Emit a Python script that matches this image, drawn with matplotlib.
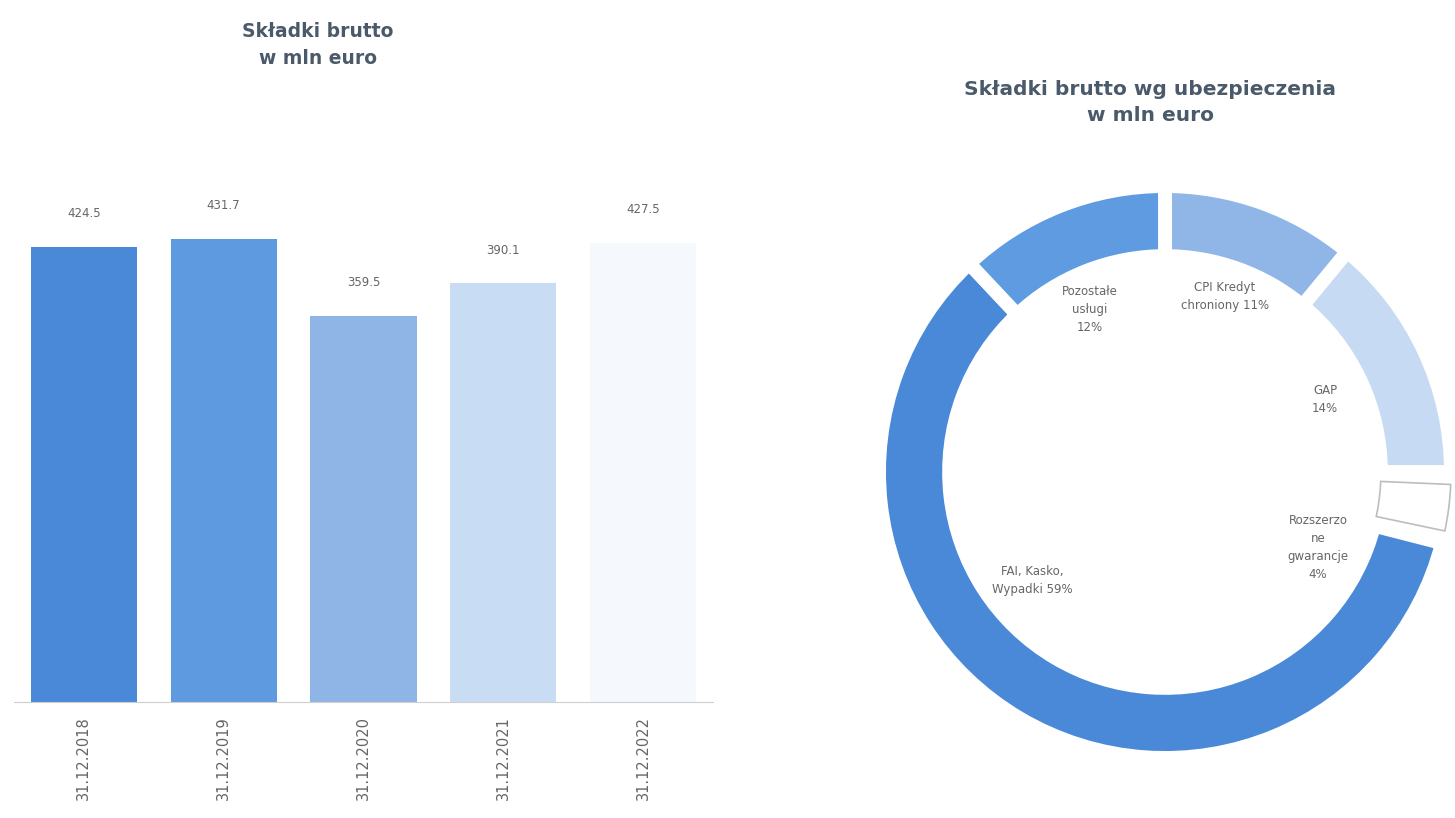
import matplotlib.pyplot as plt

# dane: składki brutto (mln euro)
years = ['31.12.2018', '31.12.2019', '31.12.2020', '31.12.2021', '31.12.2022']
premiums = [424.5, 431.7, 359.5, 390.1, 427.5]
bar_colors = ['#4a89d7', '#5d9ae0', '#8fb5e6', '#c8dcf3', '#f5f9fd']

# dane: struktura wg ubezpieczenia (%)
segments = ['CPI Kredyt\nchroniony 11%', 'GAP\n14%', 'Rozszerzo\nne\ngwarancje\n4%',
            'FAI, Kasko,\nWypadki 59%', 'Pozostałe\nusługi\n12%']
shares = [11, 14, 4, 59, 12]
donut_colors = ['#90b6e7', '#c6dbf3', '#ffffff', '#4a89d7', '#5e9be0']
label_pos = [(0.214, 0.625), (0.571, 0.257), (0.546, -0.271), (-0.475, -0.386), (-0.268, 0.579)]

title_color = '#4b5a6b'
text_color = '#666666'

fig = plt.figure(figsize=(14.55, 8.18), dpi=100)

# wykres słupkowy
ax1 = fig.add_axes([0.0096, 0.1418, 0.4804, 0.6296])
x = range(len(years))
bars = ax1.bar(x, premiums, width=0.76, color=bar_colors)
for b, v in zip(bars, premiums):
    ax1.annotate(f'{v:.1f}', (b.get_x() + b.get_width() / 2, v), xytext=(0, 24),
                 textcoords='offset points', ha='center', va='center',
                 fontsize=8.5, color=text_color)
ax1.set_xlim(-0.5, 4.5)
ax1.set_ylim(0, 480)
ax1.set_xticks(list(x))
ax1.set_xticklabels(years, rotation=90, fontsize=10.5, color=text_color)
ax1.tick_params(axis='x', length=0, pad=10)
ax1.set_yticks([])
for s in ['top', 'right', 'left']:
    ax1.spines[s].set_visible(False)
ax1.spines['bottom'].set_color('#cfcfcf')
fig.text(0.2186, 0.962, 'Składki brutto', ha='center', va='center',
         fontsize=13.5, fontweight='bold', color=title_color)
fig.text(0.2186, 0.928, 'w mln euro', ha='center', va='center',
         fontsize=13.5, fontweight='bold', color=title_color)

# wykres pierścieniowy
ax2 = fig.add_axes([865 / 1455, 1 - 772 / 818, 600 / 1455, 600 / 818])
wedges, _ = ax2.pie(shares, colors=donut_colors, startangle=90, counterclock=False,
                    radius=1.02, wedgeprops=dict(width=0.25, edgecolor='white', linewidth=10))
# segment "Rozszerzone gwarancje" - biały z szarą ramką i odstępami
w = wedges[2]
w.set_theta1(w.theta1 + 2.5)
w.set_theta2(w.theta2 - 2.5)
w.set_edgecolor('#bdbdbd')
w.set_linewidth(1.2)
for (lx, ly), lab in zip(label_pos, segments):
    ax2.text(lx, ly, lab, ha='center', va='center', fontsize=8.5, color=text_color,
             linespacing=1.5)
ax2.set_xlim(-1.07, 1.07)
ax2.set_ylim(-1.07, 1.07)
ax2.set_aspect('equal')
ax2.axis('off')
fig.text(0.7904, 0.890, 'Składki brutto wg ubezpieczenia', ha='center', va='center',
         fontsize=14.5, fontweight='bold', color=title_color)
fig.text(0.7904, 0.859, 'w mln euro', ha='center', va='center',
         fontsize=14.5, fontweight='bold', color=title_color)

fig.savefig('out.png', dpi=100)
